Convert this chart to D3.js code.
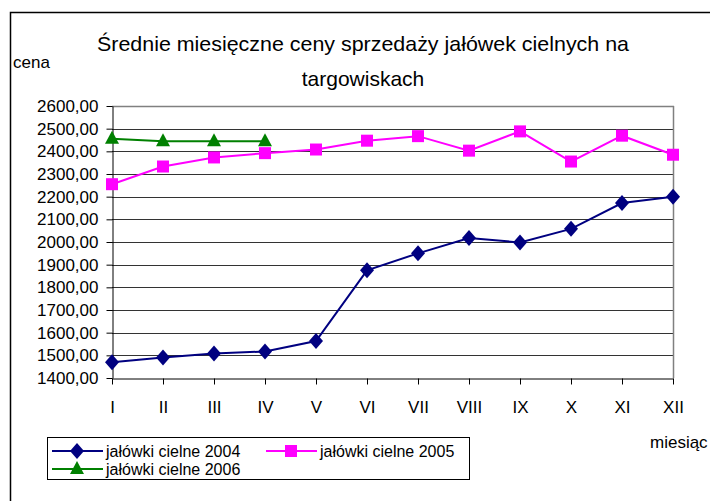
<!DOCTYPE html>
<html>
<head>
<meta charset="utf-8">
<script src="https://cdn.jsdelivr.net/npm/d3@7"></script>
<style>
  body { margin: 0; background: #fff; }
  text { font-family: "Liberation Sans", Arial, sans-serif; fill: #000; }
</style>
</head>
<body>
<svg id="chart" width="710" height="501"></svg>
<script>
// months, roman numerals
var months = ['I', 'II', 'III', 'IV', 'V', 'VI', 'VII', 'VIII', 'IX', 'X', 'XI', 'XII'];
var yTicks = [1400, 1500, 1600, 1700, 1800, 1900, 2000, 2100, 2200, 2300, 2400, 2500, 2600];

var ceny2004 = [1470, 1490, 1508, 1517, 1563, 1875, 1950, 2018, 1998, 2058, 2172, 2200];
var ceny2005 = [2255, 2333, 2373, 2392, 2408, 2447, 2467, 2403, 2488, 2355, 2469, 2385];
var ceny2006 = [2455, 2444, 2444, 2444];

var series = [
  {name: 'jałówki cielne 2004', values: ceny2004, color: '#000080', marker: 'diamond'},
  {name: 'jałówki cielne 2005', values: ceny2005, color: '#ff00ff', marker: 'square'},
  {name: 'jałówki cielne 2006', values: ceny2006, color: '#008000', marker: 'triangle'}
];

var svg = d3.select('#chart');

// outer frame (runs off the right/bottom edge like the source)
svg.append('rect')
  .attr('x', 10.5).attr('y', 12.5)
  .attr('width', 760).attr('height', 520)
  .attr('fill', 'none').attr('stroke', '#000').attr('stroke-width', 1.5);

// note: "top" is reserved on window, so use plot* names
var plotL = 112, plotR = 673, plotT = 106, plotB = 378;

var x = d3.scalePoint().domain(months).range([plotL, plotR]).padding(0);
var y = d3.scaleLinear().domain([1400, 2600]).range([plotB, plotT]);

// gridlines
svg.append('g').selectAll('line')
  .data(yTicks.slice(1))
  .join('line')
  .attr('x1', plotL).attr('x2', plotR)
  .attr('y1', d => Math.round(y(d)) + 0.5).attr('y2', d => Math.round(y(d)) + 0.5)
  .attr('stroke', '#333').attr('stroke-width', 1);

// plot border, right + top
svg.append('line')
  .attr('x1', plotR + 0.5).attr('x2', plotR + 0.5)
  .attr('y1', plotT).attr('y2', plotB)
  .attr('stroke', '#808080').attr('stroke-width', 1.5);
svg.append('line')
  .attr('x1', plotL).attr('x2', plotR + 1)
  .attr('y1', plotT + 0.5).attr('y2', plotT + 0.5)
  .attr('stroke', '#808080').attr('stroke-width', 1.5);

var fmt = d => d3.format('.2f')(d).replace('.', ',');

var yAxis = svg.append('g')
  .attr('transform', 'translate(' + (plotL + 0.5) + ',0)')
  .call(d3.axisLeft(y).tickValues(yTicks).tickFormat(fmt).tickSize(6).tickSizeOuter(0).tickPadding(8));
yAxis.selectAll('text').style('font-size', '17px').style('font-family', '"Liberation Sans", Arial, sans-serif');
yAxis.selectAll('line, path').attr('stroke', '#000');

var xAxis = svg.append('g')
  .attr('transform', 'translate(0,' + (plotB + 0.5) + ')')
  .call(d3.axisBottom(x).tickSize(6).tickSizeOuter(0).tickPadding(16));
xAxis.selectAll('text').style('font-size', '17px').style('font-family', '"Liberation Sans", Arial, sans-serif');
xAxis.selectAll('line, path').attr('stroke', '#000');

function markerPath(kind) {
  if (kind === 'diamond') return 'M0,-8L7,0L0,8L-7,0Z';
  if (kind === 'square') return 'M-6,-6H6V6H-6Z';
  return 'M0,-8L7,5H-7Z';
}

var line = d3.line()
  .x((d, i) => x(months[i]))
  .y(d => y(d));

series.forEach(function(s) {
  var g = svg.append('g');
  g.append('path')
    .attr('d', line(s.values))
    .attr('fill', 'none')
    .attr('stroke', s.color)
    .attr('stroke-width', 2);
  g.selectAll('path.m')
    .data(s.values)
    .join('path')
    .attr('class', 'm')
    .attr('d', markerPath(s.marker))
    .attr('transform', (d, i) => 'translate(' + x(months[i]) + ',' + y(d) + ')')
    .attr('fill', s.color);
});

// title
svg.append('text')
  .attr('x', 363).attr('y', 51)
  .attr('text-anchor', 'middle')
  .style('font-size', '21px')
  .attr('textLength', 532).attr('lengthAdjust', 'spacingAndGlyphs')
  .text('Średnie miesięczne ceny sprzedaży jałówek cielnych na');
svg.append('text')
  .attr('x', 363).attr('y', 86)
  .attr('text-anchor', 'middle')
  .style('font-size', '21px')
  .text('targowiskach');

svg.append('text')
  .attr('x', 13).attr('y', 68)
  .style('font-size', '17px')
  .text('cena');

svg.append('text')
  .attr('x', 650).attr('y', 448)
  .style('font-size', '17px')
  .text('miesiąc');

// legend
var legend = svg.append('g');
legend.append('rect')
  .attr('x', 47.5).attr('y', 437.5)
  .attr('width', 422).attr('height', 42)
  .attr('fill', '#fff').attr('stroke', '#000').attr('stroke-width', 1);

var legendPos = [
  {x: 52, y: 451},
  {x: 266, y: 451},
  {x: 52, y: 469}
];

series.forEach(function(s, i) {
  var p = legendPos[i];
  var g = legend.append('g').attr('transform', 'translate(' + p.x + ',' + p.y + ')');
  g.append('line')
    .attr('x1', 0).attr('x2', 51)
    .attr('stroke', s.color).attr('stroke-width', 2);
  g.append('path')
    .attr('d', markerPath(s.marker))
    .attr('transform', 'translate(25,0)')
    .attr('fill', s.color);
  g.append('text')
    .attr('x', 54).attr('y', 5.5)
    .style('font-size', '16px')
    .text(s.name);
});
</script>
</body>
</html>
